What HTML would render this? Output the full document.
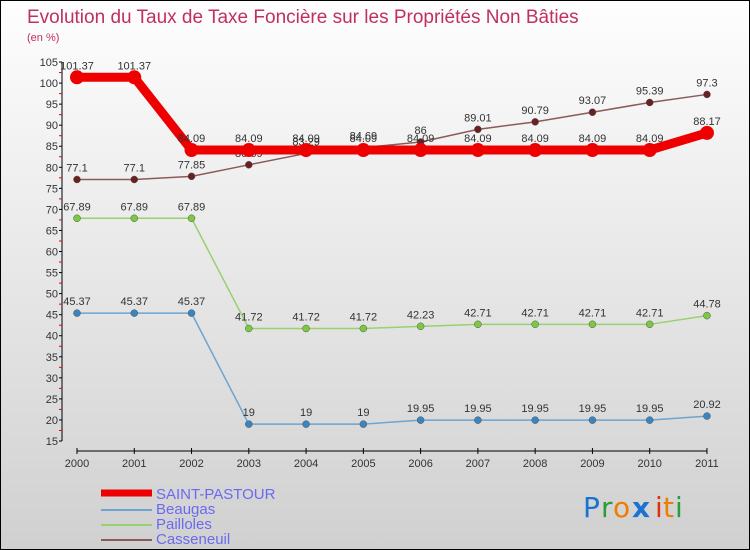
<!DOCTYPE html>
<html><head><meta charset="utf-8"><style>
body{margin:0}
#c{width:750px;height:550px;position:relative;overflow:hidden;box-sizing:border-box;border:1px solid #000;background:linear-gradient(#fefefe,#d0d0d0);font-family:"Liberation Sans",sans-serif}
</style></head><body>
<div id="c">
<svg id="s" width="750" height="550" style="position:absolute;left:0;top:0">
<text x="26" y="22" font-size="19" fill="#c0305f">Evolution du Taux de Taxe Foncière sur les Propriétés Non Bâties</text>
<text x="26" y="40" font-size="11" fill="#c0305f">(en %)</text>
<g id="axes"></g><g id="series"></g><g id="legend"></g>
<g font-size="28" font-family="'DejaVu Sans',sans-serif">
<text x="582" y="516" fill="#1a73d0">P</text><text x="600" y="516" fill="#2a9d3a">r</text><text x="612" y="516" fill="#f07c00">o</text><text x="631" y="516" fill="#1a73d0" font-weight="bold">x</text><text x="654" y="516" fill="#e03010">i</text><text x="662" y="516" fill="#f07c00">t</text><text x="674" y="516" fill="#2a9d3a">i</text>
</g>
</svg>
</div>
<script>
const years=["2000","2001","2002","2003","2004","2005","2006","2007","2008","2009","2010","2011"];
const yTicks=[15,20,25,30,35,40,45,50,55,60,65,70,75,80,85,90,95,100,105];
const seriesNames=["SAINT-PASTOUR","Beaugas","Pailloles","Casseneuil"];
const stPastour=[101.37,101.37,84.09,84.09,84.09,84.09,84.09,84.09,84.09,84.09,84.09,88.17];
const beaugas=[45.37,45.37,45.37,19,19,19,19.95,19.95,19.95,19.95,19.95,20.92];
const pailloles=[67.89,67.89,67.89,41.72,41.72,41.72,42.23,42.71,42.71,42.71,42.71,44.78];
const casseneuil=[77.1,77.1,77.85,80.59,83.29,84.69,86,89.01,90.79,93.07,95.39,97.3];
const NS="http://www.w3.org/2000/svg";
function X(i){return 76+i*57.27;}
function Y(v){return 440-(v-15)*4.211;}
function mk(t,a,p){const e=document.createElementNS(NS,t);for(const k in a)e.setAttribute(k,a[k]);p.appendChild(e);return e;}
const ax=document.getElementById('axes');
let l=mk('line',{x1:61,y1:Y(105),x2:61,y2:Y(15),stroke:'#000'},ax);


l=mk('line',{x1:X(0),y1:450,x2:X(11),y2:450,stroke:'#000'},ax);


yTicks.forEach((v,i)=>{
 mk('line',{x1:58,y1:Y(v),x2:61,y2:Y(v),stroke:'#000'},ax);
 if(i<yTicks.length-1)mk('line',{x1:58,y1:Y(v+2.5),x2:61,y2:Y(v+2.5),stroke:'#e00'},ax);
 const t=mk('text',{x:57,y:Y(v)+4,'text-anchor':'end','font-size':11,fill:'#333'},ax);t.textContent=v;
 
 
});
years.forEach((y,i)=>{
 mk('line',{x1:X(i),y1:447,x2:X(i),y2:453,stroke:'#000'},ax);
 const t=mk('text',{x:X(i),y:466,'text-anchor':'middle','font-size':11,fill:'#333'},ax);t.textContent=y;
 
 
});
const sg=document.getElementById('series');
const defs=[[casseneuil,'#8b5a5a','#6b1f1f',1.5,3.5],[pailloles,'#99d070','#7cc840',1.5,3.5],[beaugas,'#6ea4d0','#3a84c0',1.5,3.5],[stPastour,'#ee0000','#ee0000',9,7]];
const nm=['casseneuil','pailloles','beaugas','saint-pastour'];
defs.forEach((d,k)=>{
 const g=mk('g',{},sg);
 
 
 const p=mk('polyline',{points:d[0].map((v,i)=>X(i)+','+Y(v)).join(' '),fill:'none',stroke:d[1],'stroke-width':d[3],'stroke-linejoin':'round'},g);
 
 
 d[0].forEach((v,i)=>{
  const c=mk('circle',{cx:X(i),cy:Y(v),r:d[4],fill:d[2],stroke:k==3?'none':'#555','stroke-width':0.5},g);
  
  
  const t=mk('text',{x:X(i),y:Y(v)-8,'text-anchor':'middle','font-size':11,fill:'#333'},g);
  t.textContent=String(v);
  
  
 });
});
const lg=document.getElementById('legend');
const lc=['#ee0000','#6ea4d0','#99d070','#8b5a5a'],lw=[7,2,2,2];
seriesNames.forEach((n,i)=>{
 const y=492+i*15;
 const r=mk('line',{x1:100,y1:y+(i?2:0),x2:151,y2:y+(i?2:0),stroke:lc[i],'stroke-width':lw[i]},lg);
 
 
 const t=mk('text',{x:155,y:y+6,'font-size':15,fill:'#6a6af0'},lg);t.textContent=n;
 
 
});
</script>
</body></html>
